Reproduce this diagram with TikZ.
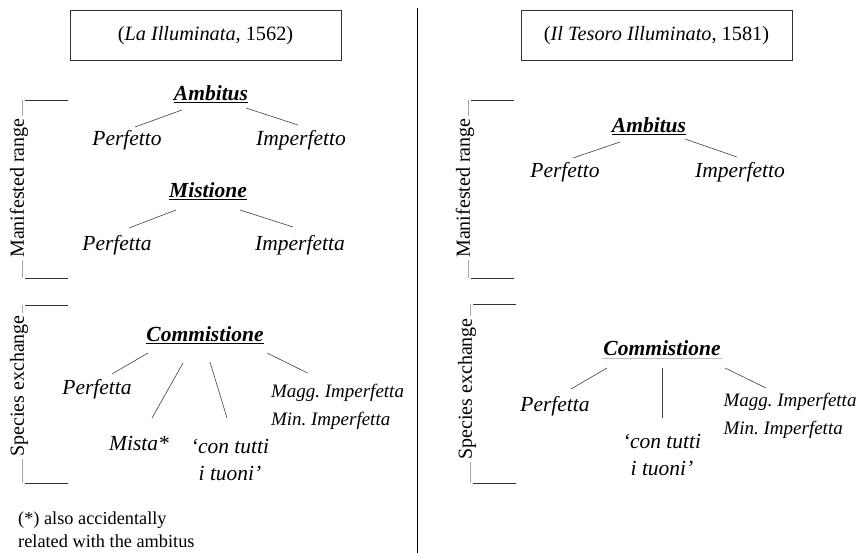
\documentclass[tikz,border=0pt]{standalone}
\usepackage{fontspec}
\setmainfont{Liberation Serif}
\usetikzlibrary{positioning}
\tikzset{
    term/.style={font=\fontsize{21.5}{27}\selectfont\itshape, inner sep=1pt},
    termsm/.style={font=\fontsize{19}{28}\selectfont\itshape, inner sep=1pt, align=left},
    head/.style={font=\fontsize{21.5}{27}\selectfont\bfseries\itshape, inner sep=1pt},
    branch/.style={draw=black!75, line width=0.6pt},
    titlebox/.style={draw=black!80, line width=1pt, minimum width=271pt, minimum height=50pt, font=\fontsize{20.3}{24}\selectfont},
    sidetext/.style={rotate=90, fill=white, inner sep=2pt, font=\fontsize{20}{22}\selectfont},
    brackv/.style={draw=black!35, line width=0.7pt},
    brackh/.style={draw=black!80, line width=0.8pt}
}
\frenchspacing
\begin{document}
\begin{tikzpicture}[x=1pt, y=-1pt]
    \useasboundingbox (0,0) rectangle (858,553);
    % divider
    \draw[line width=0.8pt] (417,8) -- (417,553);
    % brackets
    \foreach \bx/\bt/\bb/\bl/\btxt in {22/100/278/188/Manifested range, 22/305/483/386/Species exchange, 468/100/278/188/Manifested range, 470/304/483/389/Species exchange}{
    \draw[brackv] (\bx,\bt) -- (\bx,\bb);
    \draw[brackh] (\bx+3,\bt) -- (\bx+46,\bt);
    \draw[brackh] (\bx+3,\bb) -- (\bx+46,\bb);
    \node[sidetext] (side\bx\bt) at (\bx-3,\bl) {\btxt};
    }
    % left: La Illuminata
    \node[titlebox] (tbox1) at (205.5,36) {(\textit{La Illuminata}, 1562)};
    \node[head] (amb1) at (211,94) {\underline{Ambitus}};
    \node[term] (perfo1) at (127,140) {Perfetto};
    \node[term] (imperfo1) at (301,140) {Imperfetto};
    \node[head] (mis1) at (208,191) {\underline{Mistione}};
    \node[term] (perfa1) at (117,245) {Perfetta};
    \node[term] (imperfa1) at (300,245) {Imperfetta};
    \node[head] (com1) at (205,335) {\underline{Commistione}};
    \node[term] (perfa2) at (97,389) {Perfetta};
    \node[term] (mista) at (139,443) {Mista*};
    \node[term, align=center] (tuoni1) at (230,460) {`con tutti\\i tuoni'};
    \node[termsm] (magg1) at (337.5,407) {Magg. Imperfetta\\Min. Imperfetta};
    \draw[branch] ([shift={(-29,16)}]amb1.center) -- ([shift={(8,-13)}]perfo1.center);
    \draw[branch] ([shift={(35,14)}]amb1.center) -- ([shift={(-3,-15)}]imperfo1.center);
    \draw[branch] ([shift={(-32,19)}]mis1.center) -- ([shift={(12,-17)}]perfa1.center);
    \draw[branch] ([shift={(32,19)}]mis1.center) -- ([shift={(-7,-18)}]imperfa1.center);
    \draw[branch] ([shift={(-57,18)}]com1.center) -- ([shift={(15,-15)}]perfa2.center);
    \draw[branch] ([shift={(-22,28)}]com1.center) -- ([shift={(13,-25)}]mista.center);
    \draw[branch] ([shift={(5,27)}]com1.center) -- ([shift={(-3,-42)}]tuoni1.center);
    \draw[branch] ([shift={(62,18)}]com1.center) -- ([shift={(-30,-34)}]magg1.center);
    \node[anchor=west, align=left, inner sep=0pt, font=\fontsize{18.3}{23}\selectfont] (note) at (18,530) {(*) also accidentally\\related with the ambitus};
    % right: Il Tesoro Illuminato
    \node[titlebox] (tbox2) at (656.5,36) {(\textit{Il Tesoro Illuminato}, 1581)};
    \node[head] (amb2) at (649,126) {\underline{Ambitus}};
    \node[term] (perfo2) at (565,172) {Perfetto};
    \node[term] (imperfo2) at (740,172) {Imperfetto};
    \node[head] (com2) at (662,348) {Commistione};
    \draw[black!25, line width=0.8pt] ([yshift=-2pt]com2.south west) -- ([yshift=-2pt]com2.south east);
    \node[term] (perfa3) at (555,406) {Perfetta};
    \node[term, align=center] (tuoni2) at (662,455) {`con tutti\\i tuoni'};
    \node[termsm] (magg2) at (790,416) {Magg. Imperfetta\\Min. Imperfetta};
    \draw[branch] ([shift={(-29,16)}]amb2.center) -- ([shift={(8,-14)}]perfo2.center);
    \draw[branch] ([shift={(36,13)}]amb2.center) -- ([shift={(-3,-15)}]imperfo2.center);
    \draw[branch] ([shift={(-55,20)}]com2.center) -- ([shift={(16,-17)}]perfa3.center);
    \draw[branch] ([shift={(0,20)}]com2.center) -- ([shift={(0,-37)}]tuoni2.center);
    \draw[branch] ([shift={(63,20)}]com2.center) -- ([shift={(-24,-28)}]magg2.center);
\end{tikzpicture}
\end{document}
